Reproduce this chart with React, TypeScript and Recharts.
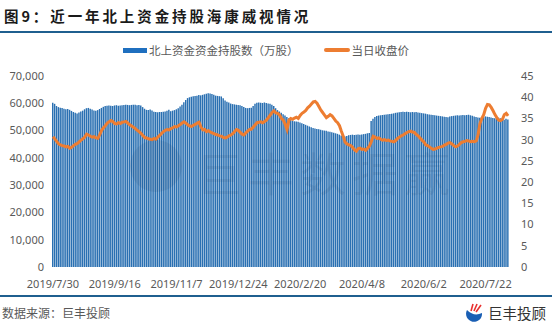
import { Bar, ComposedChart, Line, XAxis, YAxis } from "recharts";

const tickLabels = [
  "2019/7/30",
  "2019/9/16",
  "2019/11/7",
  "2019/12/24",
  "2020/2/20",
  "2020/4/8",
  "2020/6/2",
  "2020/7/22",
];

// 北上资金持股数（万股）, one per trading day
const holdings = [
  60200, 59800, 59000, 58600, 58400, 58300, 58000, 57800, 57900, 57600,
  57200, 56800, 56500, 56300, 56600, 57000, 57300, 57800, 58200, 58300,
  58000, 57700, 57400, 57300, 57500, 57900, 58300, 58700, 59000, 59100,
  59200, 59100, 59000, 59200, 59300, 59100, 59200, 59300, 59400, 59500,
  59400, 59300, 59400, 59500, 59500, 59300, 59400, 59200, 58600, 58000,
  57600, 57500, 57700, 57400, 56900, 56800, 56700, 56800, 56800, 56900,
  57000, 57300, 57600, 57100, 57300, 57500, 57800, 58200, 58800, 59500,
  60400, 61200, 61900, 62200, 62400, 62600, 62700, 62800, 63000, 62900,
  63100, 63300, 63500, 63700, 63600, 63400, 63100, 62800, 62700, 62600,
  62500, 61800, 61000, 60600, 60300, 59900, 59700, 59600, 59500, 59400,
  59300, 59000, 58600, 58300, 58200, 58300, 58400, 59000, 59800, 60200,
  60300, 60200, 60100, 60300, 60100, 59900, 59800, 59500, 59000, 58200,
  57500, 57000, 56500, 56000, 55500, 55000, 54500, 54000, 53600, 53400,
  53300, 53200, 53000, 52700, 52400, 52100, 51800, 51500, 51200, 50900,
  50800, 50600, 50500, 50300, 50100, 50000, 49900, 49700, 49600, 49400,
  49200, 49000, 48800, 48500, 48200, 47900, 47800, 48000, 48300, 48400,
  48500, 48400, 48500, 48600, 48500, 48600, 48700, 48800, 49000, 49100,
  53500, 54300, 55000, 55300, 55500, 55600, 55700, 55800, 55900, 56000,
  56100, 56200, 56300, 56500, 56600, 56700, 56800, 56900, 56800, 56900,
  56800, 56700, 56800, 56700, 56800, 56600, 56500, 56400, 56300, 56200,
  56000, 55900, 55800, 55700, 55600, 55500, 55400, 55300, 55200, 55100,
  55000, 54900, 55200, 55300, 55400, 55500, 55600, 55500, 55600, 55700,
  55600, 55700, 55800, 55600, 55400, 55200, 55000, 54800, 54700, 54800,
  55000, 55200, 55100, 55000, 54800, 54600, 54500, 54600, 54700, 54500,
  54200, 54000, 54300, 54100,
];

// 当日收盘价
const closePrice = [
  30.7, 30.2, 29.6, 29.0, 28.8, 28.6, 28.5, 28.3, 28.4, 28.0,
  28.2, 28.6, 28.9, 29.1, 29.5, 29.9, 30.2, 30.6, 31.3, 31.1,
  30.8, 30.6, 30.7, 30.4, 30.3, 31.2, 32.2, 32.8, 33.3, 33.9,
  34.2, 34.5, 34.3, 33.8, 33.7, 34.0, 33.8, 34.1, 34.2, 34.3,
  33.9, 33.5, 33.2, 32.9, 32.6, 32.2, 31.9, 31.5, 31.0, 30.5,
  30.4, 30.2, 30.1, 30.0, 30.3, 30.1, 30.6, 31.0, 31.5, 31.9,
  32.2, 32.4, 32.3, 32.6, 32.8, 33.1, 33.0, 33.3, 33.6, 33.9,
  34.2, 33.9, 33.5, 33.2, 33.1, 33.4, 33.6, 33.9, 34.1, 33.0,
  32.3, 32.4, 31.9, 32.1, 31.8, 31.6, 31.4, 31.2, 31.1, 30.9,
  30.8, 30.5, 30.4, 30.6, 30.9, 31.1, 31.4, 31.9, 32.4, 32.2,
  31.7, 31.3, 31.1, 31.6, 32.0, 32.4, 32.5, 33.0, 33.5, 34.0,
  34.1, 34.2, 34.0, 34.3, 34.6, 35.2, 35.8, 36.4, 36.8, 36.3,
  36.2, 35.8, 35.0, 34.6, 33.6, 32.4, 34.6, 35.0, 34.8, 35.1,
  35.3, 35.0, 35.7, 36.2, 36.5, 36.9, 37.5, 37.9, 38.4, 38.9,
  39.0, 38.6, 37.8, 37.0, 36.4, 35.8, 35.2, 35.5, 35.9, 35.6,
  35.0, 34.4, 34.0, 33.3, 32.0, 30.8, 29.4, 29.0, 28.8, 28.6,
  28.2, 27.6, 27.3, 27.9, 28.0, 27.7, 27.8, 27.5, 28.0, 28.5,
  29.6, 30.8, 30.6, 30.3, 30.4, 30.1, 29.9, 30.0, 29.8, 29.9,
  29.7, 29.6, 29.5, 29.8, 30.3, 30.6, 30.9, 31.1, 31.4, 31.7,
  31.9, 32.0, 31.8, 31.7, 31.2, 30.9, 30.4, 29.9, 29.5, 28.8,
  28.6, 28.3, 28.0, 27.7, 27.8, 28.0, 28.2, 28.3, 28.4, 28.7,
  28.9, 29.2, 29.3, 29.0, 28.6, 28.3, 28.5, 28.9, 29.3, 29.5,
  29.6, 29.8, 29.7, 29.5, 29.6, 29.5, 29.7, 31.2, 33.8, 35.0,
  35.9, 37.4, 38.3, 38.2, 37.6, 36.8, 35.9, 35.2, 34.6, 34.5,
  34.8, 35.9, 36.2, 35.6,
];

const leftTicks = [0, 10000, 20000, 30000, 40000, 50000, 60000, 70000];
const rightTicks = [0, 5, 10, 15, 20, 25, 30, 35, 40, 45];
const LABEL_EVERY = 33;

const BLUE = "#2a70b2";
const ORANGE = "#ed7d31";
const GREY = "#595959";
const FONT = "'Noto Sans', 'Noto Sans CJK SC', sans-serif";

const data = holdings.map((h, i) => ({
  idx: i,
  holdings: h,
  price: closePrice[i],
}));

const tickStyle = { fill: GREY, fontSize: 11, fontFamily: FONT };

function Logo() {
  return (
    <svg width={20} height={20} viewBox="0 0 20 20" style={{ position: "absolute", left: 464, top: 302 }}>
      <path d="M3 8 A8 8 0 1 0 18 11 Q10 15 3 8 Z" fill="#1a5fb4" />
      <path d="M9 2 L7 9" stroke="#e8312f" strokeWidth={1.6} />
      <path d="M13 2 L10 9" stroke="#e8312f" strokeWidth={1.6} />
      <path d="M17 3 L12 10" stroke="#e8312f" strokeWidth={1.6} />
    </svg>
  );
}

export default function App() {
  return (
    <div
      style={{
        position: "absolute",
        left: 0,
        top: 0,
        width: 552,
        height: 331,
        background: "#fff",
        overflow: "hidden",
        fontFamily: "'Noto Sans CJK SC', sans-serif",
      }}
    >
      {/* Title */}
      <div
        style={{
          position: "absolute",
          left: 4,
          top: 5,
          fontSize: 14.5,
          fontWeight: 700,
          letterSpacing: 2.9,
          color: "#1a1a1a",
          whiteSpace: "nowrap",
        }}
      >
        图9：近一年北上资金持股海康威视情况
      </div>
      <div style={{ position: "absolute", left: 0, top: 31, width: 552, height: 2, background: "#1f5f8f" }} />

      {/* Legend */}
      <div
        style={{
          position: "absolute",
          left: 123,
          top: 42,
          display: "flex",
          alignItems: "center",
          fontSize: 11.5,
          color: GREY,
          whiteSpace: "nowrap",
        }}
      >
        <span style={{ display: "inline-block", width: 24, height: 5, background: "#1f6fbf", marginRight: 2 }} />
        <span>北上资金资金持股数（万股）</span>
        <span style={{ display: "inline-block", width: 26, height: 4, borderRadius: 2, background: ORANGE, marginLeft: 25, marginRight: 2 }} />
        <span>当日收盘价</span>
      </div>

      <div style={{ position: "absolute", left: 0, top: 0 }}>
        <ComposedChart
          width={552}
          height={331}
          data={data}
          margin={{ top: 76, right: 0, bottom: 0, left: 0 }}
          barSize={1.45}
        >
          <XAxis
            dataKey="idx"
            interval={LABEL_EVERY - 1}
            tickFormatter={(v) => tickLabels[Math.round(Number(v) / LABEL_EVERY)] ?? ""}
            tick={tickStyle}
            tickMargin={7}
            axisLine={false}
            tickLine={false}
            height={64}
          />
          <YAxis
            yAxisId="left"
            width={52}
            domain={[0, 70000]}
            ticks={leftTicks}
            tickFormatter={(v) => Number(v).toLocaleString("en-US")}
            tick={tickStyle}
            axisLine={false}
            tickLine={false}
          />
          <YAxis
            yAxisId="right"
            orientation="right"
            width={43}
            domain={[0, 45]}
            ticks={rightTicks}
            tick={tickStyle}
            tickMargin={6}
            axisLine={false}
            tickLine={false}
          />
          <Bar yAxisId="left" dataKey="holdings" name="北上资金资金持股数（万股）" fill={BLUE} isAnimationActive={false} />
          <Line
            yAxisId="right"
            dataKey="price"
            name="当日收盘价"
            type="linear"
            stroke={ORANGE}
            strokeWidth={3}
            dot={false}
            isAnimationActive={false}
          />
        </ComposedChart>
      </div>

      {/* Watermark */}
      <div
        style={{
          position: "absolute",
          left: 130,
          top: 140,
          width: 52,
          height: 52,
          borderRadius: 26,
          background: "rgba(20,50,90,0.10)",
          pointerEvents: "none",
        }}
      />
      <div
        style={{
          position: "absolute",
          left: 196,
          top: 138,
          fontSize: 46,
          letterSpacing: 6,
          color: "rgba(20,50,90,0.10)",
          whiteSpace: "nowrap",
          pointerEvents: "none",
        }}
      >
        巨丰数据赢
      </div>

      {/* Footer */}
      <div style={{ position: "absolute", left: 0, top: 295, width: 552, height: 2, background: "#1f5f8f" }} />
      <div style={{ position: "absolute", left: 2, top: 304, fontSize: 12, color: GREY, whiteSpace: "nowrap" }}>
        数据来源：巨丰投顾
      </div>
      <Logo />
      <div style={{ position: "absolute", left: 488, top: 302, fontSize: 14.5, color: "#333", whiteSpace: "nowrap" }}>
        巨丰投顾
      </div>
    </div>
  );
}
